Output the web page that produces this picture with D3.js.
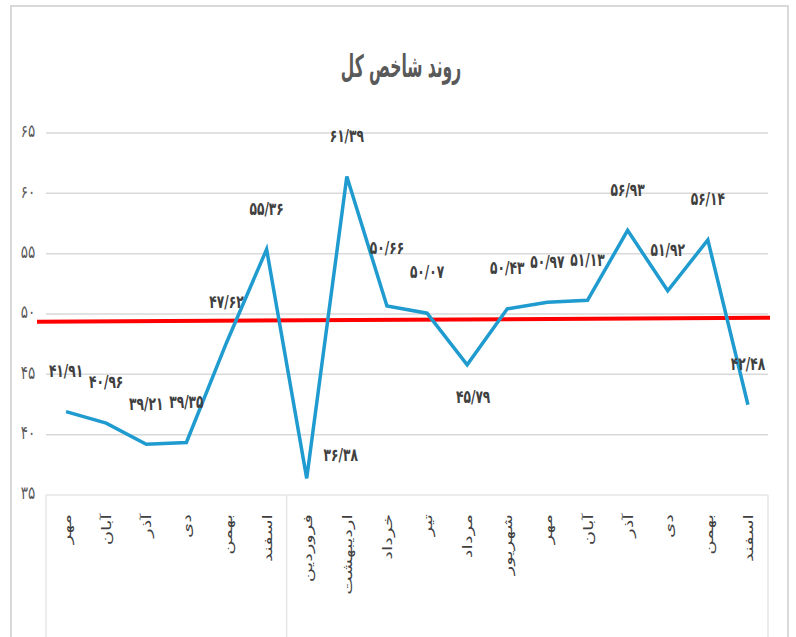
<!DOCTYPE html>
<html>
<head>
<meta charset="utf-8">
<script src="https://cdn.jsdelivr.net/npm/d3@7/dist/d3.min.js"></script>
<style>
  body { margin: 0; background: #fff; }
  svg { display: block; }
</style>
</head>
<body>
<script>
// data
let months = ["مهر", "آبان", "آذر", "دی", "بهمن", "اسفند", "فروردین", "اردیبهشت", "خرداد",
              "تیر", "مرداد", "شهریور", "مهر", "آبان", "آذر", "دی", "بهمن", "اسفند"];
let values = [41.91, 40.96, 39.21, 39.35, 47.62, 55.36, 36.38, 61.39, 50.66,
              50.07, 45.79, 50.43, 50.97, 51.13, 56.93, 51.92, 56.14, 42.48];
let yTicks = [35, 40, 45, 50, 55, 60, 65];
let redLine = [49.36, 49.69];   // start / end value of the red line
let title = "روند شاخص کل";

let w = 796, h = 637;
let plotL = 46, plotR = 768, plotT = 133, plotB = 495;

// labels that excel moved away from the default spot
let labelShift = { 6: [34, -24], 8: [0, -58], 10: [6, 32] };

let fa = (s) => String(s).replace(/\./g, "/").replace(/\d/g, (d) => "۰۱۲۳۴۵۶۷۸۹"[+d]);

let svg = d3.select("body").append("svg")
            .attr("width", w)
            .attr("height", h);

// outer frame
svg.append("rect")
   .attr("x", 11).attr("y", 6)
   .attr("width", 777).attr("height", h)
   .attr("fill", "none")
   .attr("stroke", "#d9d9d9")
   .attr("stroke-width", 2);

svg.append("text")
   .attr("transform", "translate(401,77) scale(0.5,1)")
   .attr("text-anchor", "middle")
   .style("font-family", "DejaVu Sans")
   .style("font-weight", "bold")
   .style("font-size", "31px")
   .attr("fill", "#595959")
   .text(title);

let xScale = d3.scaleBand()
               .domain(d3.range(months.length))
               .range([plotL, plotR]);

let yScale = d3.scaleLinear()
               .domain([35, 65])
               .range([plotB, plotT]);

// gridlines
svg.append("g")
   .selectAll("line")
   .data(yTicks.slice(1))
   .enter().append("line")
   .attr("x1", plotL).attr("x2", plotR)
   .attr("y1", d => yScale(d)).attr("y2", d => yScale(d))
   .attr("stroke", "#d9d9d9")
   .attr("stroke-width", 1.5);

// y labels, narrow like the original font
svg.append("g")
   .selectAll("text")
   .data(yTicks)
   .enter().append("text")
   .attr("transform", d => "translate(28," + (yScale(d) - 2) + ") scale(0.75,1)")
   .attr("dy", "0.35em")
   .attr("text-anchor", "middle")
   .style("font-family", "DejaVu Sans")
   .style("font-size", "18px")
   .attr("fill", "#595959")
   .text(d => fa(d));

// category axis box
let axisG = svg.append("g").attr("stroke", "#e6e6e6").attr("stroke-width", 1.5);
axisG.append("line").attr("x1", plotL).attr("x2", plotR).attr("y1", plotB).attr("y2", plotB);
axisG.append("line").attr("x1", plotL).attr("x2", plotL).attr("y1", plotB).attr("y2", h);
axisG.append("line").attr("x1", plotR).attr("x2", plotR).attr("y1", plotB).attr("y2", h);
axisG.append("line")
     .attr("x1", xScale(6)).attr("x2", xScale(6))
     .attr("y1", plotB).attr("y2", h);

svg.append("g")
   .selectAll("text")
   .data(months)
   .enter().append("text")
   .attr("transform", (d, i) => "translate(" + (xScale(i) + xScale.bandwidth() / 2 + 5) + "," + (plotB + 19) + ") rotate(-90) scale(1.4,0.9)")
   .attr("text-anchor", "end")
   .style("font-family", "DejaVu Sans")
   .style("font-size", "14px")
   .attr("fill", "#404040")
   .text(d => d);

// red line
svg.append("line")
   .attr("x1", 37).attr("x2", 770)
   .attr("y1", yScale(redLine[0])).attr("y2", yScale(redLine[1]))
   .attr("stroke", "#ff0000")
   .attr("stroke-width", 4);

let line = d3.line()
             .x((d, i) => xScale(i) + xScale.bandwidth() / 2)
             .y(d => yScale(d));

svg.append("path")
   .datum(values)
   .attr("d", line)
   .attr("fill", "none")
   .attr("stroke", "#1f9bcf")
   .attr("stroke-width", 3.5)
   .attr("stroke-linejoin", "miter");

svg.append("g")
   .selectAll("text")
   .data(values)
   .enter().append("text")
   .attr("transform", (d, i) => {
       let x = xScale(i) + xScale.bandwidth() / 2 + (labelShift[i] ? labelShift[i][0] : 0);
       let y = yScale(d) + (labelShift[i] ? labelShift[i][1] : -41);
       return "translate(" + x + "," + y + ") scale(0.68,1)";
   })
   .attr("dy", "0.35em")
   .attr("text-anchor", "middle")
   .style("font-family", "DejaVu Sans")
   .style("font-weight", "bold")
   .style("font-size", "18px")
   .attr("fill", "#404040")
   .text(d => fa(d.toFixed(2)));
</script>
</body>
</html>
